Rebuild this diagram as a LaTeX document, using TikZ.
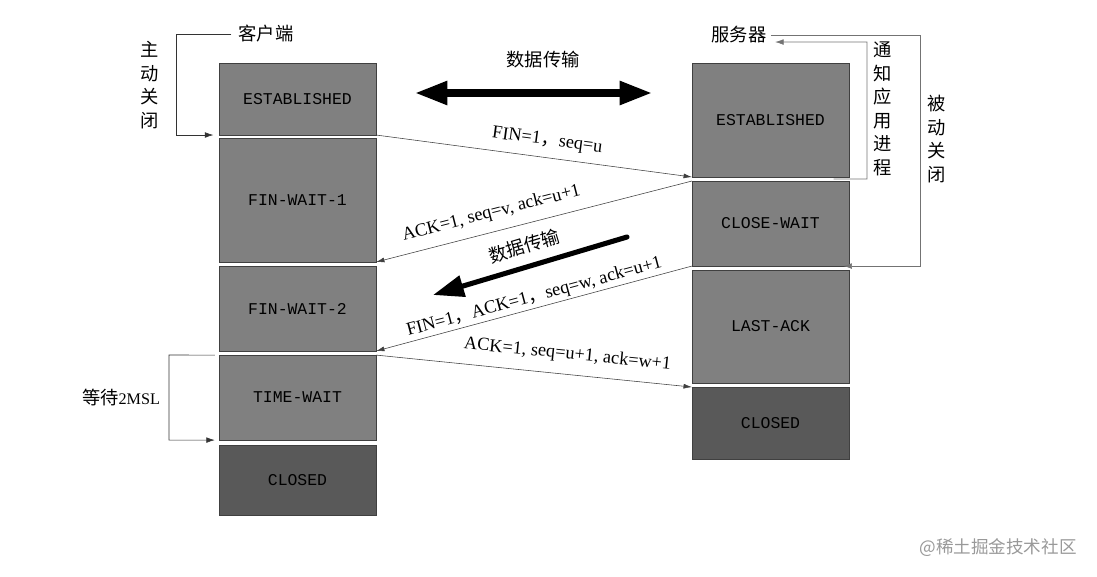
\documentclass[tikz,border=0pt]{standalone}
\usepackage{fontspec}
\setmainfont{Liberation Serif}
\setmonofont{Liberation Mono}
\newfontfamily\cjk{Noto Sans CJK SC}
\usetikzlibrary{arrows.meta, positioning, calc}

\begin{document}
\begin{tikzpicture}[
        x=0.025cm, y=-0.025cm,
        state/.style={draw=black!75, fill=black!50, minimum width=3.925cm, inner sep=0pt, outer sep=0pt, font=\ttfamily\fontsize{11.7}{14}\selectfont},
        closedstate/.style={state, fill=black!65},
        msg/.style={draw=black!75, -{Latex[length=6pt,width=3.5pt]}},
        lbl/.style={font=\fontsize{13}{15}\selectfont, inner sep=0pt, sloped},
        cn/.style={font=\cjk\fontsize{13}{16.7}\selectfont, align=center, inner sep=0pt},
        bracket/.style={draw=black!80, -{Latex[length=6pt,width=4pt]}},
        graybracket/.style={draw=black!55, -{Latex[length=6pt,width=4pt]}},
        flow/.style={line width=5pt, {Triangle[length=23pt,width=16pt]}-{Triangle[length=23pt,width=16pt]}}
    ]
        \useasboundingbox (0,0) rectangle (1097,577);

        % client side
        \node[state, minimum height=1.8cm] (cEst) at (297.5,99) {ESTABLISHED};
        \node[state, minimum height=3.1cm, below=0.075cm of cEst] (cFw1) {FIN-WAIT-1};
        \node[state, minimum height=2.125cm, below=0.1cm of cFw1] (cFw2) {FIN-WAIT-2};
        \node[state, minimum height=2.125cm, below=0.1cm of cFw2] (cTw) {TIME-WAIT};
        \node[closedstate, minimum height=1.75cm, below=0.125cm of cTw] (cClosed) {CLOSED};

        % server side
        \node[state, minimum height=2.85cm] (sEst) at (770.5,120) {ESTABLISHED};
        \node[state, minimum height=2.125cm, below=0.1cm of sEst] (sCw) {CLOSE-WAIT};
        \node[state, minimum height=2.825cm, below=0.1cm of sCw] (sLa) {LAST-ACK};
        \node[closedstate, minimum height=1.8cm, below=0.1cm of sLa] (sClosed) {CLOSED};

        % segments
        \draw[msg] (cEst.south east) -- node[lbl, above=6pt, pos=0.535] {FIN=1{\cjk ，}seq=u} (sEst.south west);
        \draw[msg] (sCw.north west) -- node[lbl, above=7pt, pos=0.62] {ACK=1, seq=v, ack=u+1} (cFw1.south east);
        \draw[msg] (sCw.south west) -- node[lbl, above=1.5pt, pos=0.49] {FIN=1{\cjk ，}ACK=1{\cjk ，}seq=w, ack=u+1} (cFw2.south east);
        \draw[msg] (cTw.north east) -- node[lbl, above=8pt, pos=0.6] {ACK=1, seq=u+1, ack=w+1} (sClosed.north west);

        % data transfer
        \node[cn] (dataTop) at (543,60) {数据传输};
        \coordinate (dtL) at (415,93);
        \coordinate (dtR) at (652,93);
        \draw[flow] (dtL) -- (dtR);
        \coordinate (dbS) at (627,237);
        \coordinate (dbE) at (433,295);
        \draw[line width=3.6pt, line cap=round, -{Triangle[length=22pt,width=15pt]}] (dbS) -- node[cn, sloped, above=7pt, pos=0.5] (dataDiag) {数据传输} (dbE);

        % client brackets
        \node[cn] (client) at (266,34) {客户端};
        \node[cn] (activeClose) at (150,85) {主\\动\\关\\闭};
        \coordinate (cBend) at (176,34);
        \draw[bracket] ([xshift=-5pt]client.west) -- (cBend) |- ([xshift=-4pt]cEst.south west);

        \node[cn] (wait) at (121,397) {等待{\rmfamily\fontsize{11.5}{14}\selectfont 2MSL}};
        \coordinate (wBend) at (169,355);
        \draw[bracket] ([xshift=-3pt]cTw.north west) -- (wBend) |- ([xshift=-3pt]cTw.south west);

        % server brackets
        \node[cn] (server) at (739,35) {服务器};
        \node[cn] (notify) at (883,109) {通\\知\\应\\用\\进\\程};
        \node[cn] (passiveClose) at (937,139) {被\\动\\关\\闭};
        \coordinate (pBend) at (920,35);
        \draw[graybracket] ([xshift=3pt]server.east) -- (pBend) |- ([xshift=-4pt]sCw.south east);
        \coordinate (nBend) at (867,179);
        \draw[graybracket] ([xshift=-11pt,yshift=-1.4pt]sEst.south east) -- (nBend) |- ([xshift=6pt,yshift=-5pt]server.east);

        \node[font=\cjk\fontsize{12.5}{14}\selectfont, text=black!40] (mark) at (998,548) {@稀土掘金技术社区};
    \end{tikzpicture}
\end{document}
